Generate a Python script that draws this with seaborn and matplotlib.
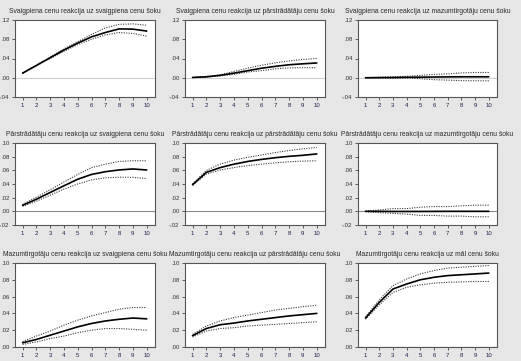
import matplotlib
matplotlib.use("Agg")
import matplotlib.pyplot as plt
import seaborn as sns

sns.set_style("ticks")
plt.rcParams['font.family'] = ['Liberation Sans', 'DejaVu Sans']

# Impulse response horizons
periods = [1, 2, 3, 4, 5, 6, 7, 8, 9, 10]

titles = [
    "Svaigpiena cenu reakcija uz svaigpiena cenu šoku",
    "Svaigpiena cenu reakcija uz pārstrādātāju cenu šoku",
    "Svaigpiena cenu reakcija uz mazumtirgotāju cenu šoku",
    "Pārstrādātāju cenu reakcija uz svaigpiena cenu šoku",
    "Pārstrādātāju cenu reakcija uz pārstrādātāju cenu šoku",
    "Pārstrādātāju cenu reakcija uz mazumtirgotāju cenu šoku",
    "Mazumtirgotāju cenu reakcija uz svaigpiena cenu šoku",
    "Mazumtirgotāju cenu reakcija uz pārstrādātāju cenu šoku",
    "Mazumtirgotāju cenu reakcija uz māl cenu šoku",
]

# response, upper band, lower band for each panel
resp_1 = [0.0096, 0.0256, 0.0416, 0.0576, 0.072, 0.085, 0.094, 0.1015, 0.101, 0.097]
upper_1 = [0.0098, 0.026, 0.043, 0.060, 0.075, 0.090, 0.1035, 0.111, 0.112, 0.109]
lower_1 = [0.0094, 0.025, 0.040, 0.055, 0.069, 0.080, 0.089, 0.094, 0.092, 0.0865]

resp_2 = [0.0006, 0.002, 0.005, 0.0096, 0.0147, 0.0198, 0.0237, 0.027, 0.029, 0.0307]
upper_2 = [0.0008, 0.0025, 0.006, 0.013, 0.020, 0.026, 0.031, 0.035, 0.038, 0.040]
lower_2 = [0.0004, 0.0015, 0.004, 0.007, 0.012, 0.0147, 0.0186, 0.0205, 0.021, 0.021]

resp_3 = [0.0, 0.0003, 0.0005, 0.001, 0.0012, 0.0015, 0.0018, 0.002, 0.002, 0.002]
upper_3 = [0.0002, 0.001, 0.002, 0.003, 0.005, 0.007, 0.008, 0.010, 0.011, 0.011]
lower_3 = [-0.0002, -0.0005, -0.001, -0.0005, -0.002, -0.004, -0.005, -0.006, -0.0063, -0.0064]

resp_4 = [0.0089, 0.0177, 0.0276, 0.0374, 0.047, 0.054, 0.058, 0.0606, 0.062, 0.0605]
upper_4 = [0.010, 0.0207, 0.0315, 0.043, 0.054, 0.064, 0.069, 0.073, 0.074, 0.074]
lower_4 = [0.0074, 0.0148, 0.0236, 0.0325, 0.040, 0.046, 0.049, 0.050, 0.0497, 0.048]

resp_5 = [0.039, 0.057, 0.064, 0.069, 0.073, 0.076, 0.0785, 0.0805, 0.082, 0.084]
upper_5 = [0.040, 0.060, 0.069, 0.075, 0.079, 0.0825, 0.086, 0.089, 0.0915, 0.0935]
lower_5 = [0.038, 0.0545, 0.0605, 0.064, 0.067, 0.069, 0.071, 0.0725, 0.0735, 0.074]

resp_6 = [0.0, 0.0, -0.0002, -0.0002, -0.0002, -0.0001, 0.0, 0.0, 0.0, 0.0]
upper_6 = [0.0005, 0.002, 0.004, 0.004, 0.006, 0.007, 0.007, 0.008, 0.009, 0.009]
lower_6 = [-0.0005, -0.002, -0.003, -0.004, -0.006, -0.006, -0.007, -0.007, -0.008, -0.008]

resp_7 = [0.005, 0.009, 0.014, 0.019, 0.024, 0.028, 0.031, 0.033, 0.0345, 0.0335]
upper_7 = [0.0065, 0.013, 0.019, 0.026, 0.032, 0.037, 0.041, 0.045, 0.047, 0.047]
lower_7 = [0.003, 0.006, 0.010, 0.013, 0.017, 0.020, 0.022, 0.022, 0.021, 0.020]

resp_8 = [0.0135, 0.022, 0.0265, 0.0285, 0.031, 0.033, 0.035, 0.037, 0.0385, 0.040]
upper_8 = [0.015, 0.025, 0.031, 0.035, 0.038, 0.041, 0.044, 0.046, 0.048, 0.0497]
lower_8 = [0.012, 0.019, 0.022, 0.023, 0.025, 0.026, 0.027, 0.028, 0.029, 0.030]

resp_9 = [0.0345, 0.053, 0.069, 0.075, 0.080, 0.083, 0.085, 0.086, 0.087, 0.088]
upper_9 = [0.036, 0.056, 0.073, 0.081, 0.087, 0.091, 0.094, 0.095, 0.096, 0.097]
lower_9 = [0.033, 0.050, 0.065, 0.071, 0.074, 0.076, 0.077, 0.0775, 0.078, 0.078]

responses = [resp_1, resp_2, resp_3, resp_4, resp_5, resp_6, resp_7, resp_8, resp_9]
uppers = [upper_1, upper_2, upper_3, upper_4, upper_5, upper_6, upper_7, upper_8, upper_9]
lowers = [lower_1, lower_2, lower_3, lower_4, lower_5, lower_6, lower_7, lower_8, lower_9]

# y axis setup per row
row_ticks = [
    [-0.04, 0.0, 0.04, 0.08, 0.12],
    [-0.02, 0.0, 0.02, 0.04, 0.06, 0.08, 0.10],
    [0.0, 0.02, 0.04, 0.06, 0.08, 0.10],
]
row_ticklabels = [
    ["-.04", ".00", ".04", ".08", ".12"],
    ["-.02", ".00", ".02", ".04", ".06", ".08", ".10"],
    [".00", ".02", ".04", ".06", ".08", ".10"],
]
row_zero_color = ["#cfcfcf", "#8a8a8a", "#8a8a8a"]

fig = plt.figure(figsize=(5.21, 3.61), dpi=100, facecolor="#e6e6e6")

col_left = [15, 185, 358]
col_width = [140, 140, 139]
row_top = [20, 143, 263]
row_bottom = [97, 225, 347]

for i in range(9):
    r, c = divmod(i, 3)
    W, H = 521, 361
    ax = fig.add_axes([col_left[c] / W, 1 - row_bottom[r] / H,
                       col_width[c] / W, (row_bottom[r] - row_top[r]) / H])
    ax.set_facecolor("white")

    ax.axhline(0, color=row_zero_color[r], lw=0.8, zorder=1)
    sns.lineplot(x=periods, y=uppers[i], ax=ax, color="#3a3a3a", lw=0.8,
                 linestyle=(0, (1, 1.2)))
    sns.lineplot(x=periods, y=lowers[i], ax=ax, color="#3a3a3a", lw=0.8,
                 linestyle=(0, (1, 1.2)))
    sns.lineplot(x=periods, y=responses[i], ax=ax, color="black", lw=1.2)

    ax.set_xlim(0.45, 10.6)
    ax.set_ylim(row_ticks[r][0], row_ticks[r][-1])
    ax.set_xticks(periods)
    ax.set_xticklabels([str(p) for p in periods], color="#202050")
    ax.set_yticks(row_ticks[r])
    ax.set_yticklabels(row_ticklabels[r], color="#303030")
    ax.tick_params(labelsize=4.3, length=2, width=0.6, pad=2, color="#444444")
    for s in ax.spines.values():
        s.set_linewidth(0.8)
        s.set_color("#555555")
    ax.set_xlabel("")
    ax.set_ylabel("")
    ax.set_title(titles[i], fontsize=4.85, color="#2a2a2a", pad=5)

fig.savefig("out.png", dpi=100, facecolor=fig.get_facecolor())
